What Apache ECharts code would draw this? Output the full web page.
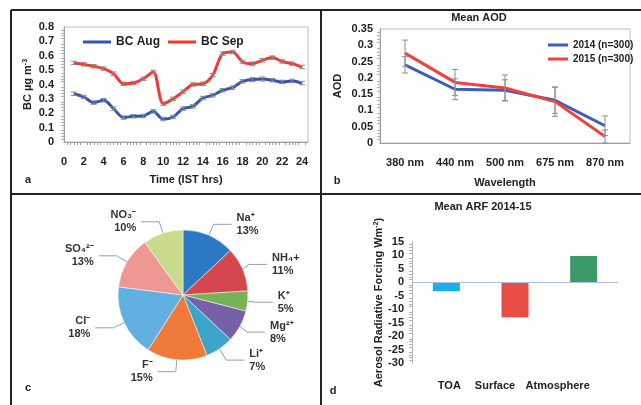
<!DOCTYPE html>
<html lang="en">
<head>
    <meta charset="UTF-8">
    <title>Aerosol panels</title>
    <script src="https://cdn.jsdelivr.net/npm/echarts@6/dist/echarts.min.js"></script>
    <style>
        html, body {
            margin: 0;
            height: 100%;
            background: #fff;
        }
    </style>
</head>
<body>
<div id="main" style="width: 641px;height: 405px"></div>
</body>
</html>
<script>
    // panel a : BC diurnal
    var hours = [1, 2, 3, 4, 5, 6, 7, 8, 9, 10, 11, 12, 13, 14, 15, 16, 17, 18, 19, 20, 21, 22, 23, 24];
    var bcAug = [0.336, 0.313, 0.274, 0.29, 0.232, 0.17, 0.179, 0.181, 0.213, 0.16, 0.174, 0.232,
        0.248, 0.306, 0.325, 0.36, 0.378, 0.422, 0.434, 0.438, 0.43, 0.418, 0.425, 0.41];
    var bcSep = [0.55, 0.54, 0.527, 0.51, 0.475, 0.405, 0.41, 0.44, 0.487, 0.267, 0.3, 0.35,
        0.4, 0.405, 0.465, 0.615, 0.626, 0.557, 0.545, 0.568, 0.587, 0.56, 0.545, 0.522];
    var errAug = [0.012, 0.012, 0.012, 0.012, 0.012, 0.012, 0.012, 0.012, 0.012, 0.012, 0.012, 0.012,
        0.012, 0.012, 0.012, 0.012, 0.012, 0.012, 0.014, 0.014, 0.012, 0.012, 0.012, 0.012];
    var errSep = [0.012, 0.012, 0.012, 0.012, 0.012, 0.012, 0.012, 0.012, 0.012, 0.012, 0.012, 0.012,
        0.012, 0.012, 0.012, 0.012, 0.012, 0.012, 0.012, 0.012, 0.012, 0.012, 0.012, 0.012];

    // panel b : mean AOD
    var waves = ['380 nm', '440 nm', '500 nm', '675 nm', '870 nm'];
    var aod2014 = [0.240, 0.165, 0.162, 0.131, 0.053];
    var aod2015 = [0.276, 0.186, 0.169, 0.127, 0.020];
    var err2014 = [0.025, 0.032, 0.032, 0.04, 0.03];
    var err2015 = [0.04, 0.04, 0.04, 0.045, 0.02];

    // panel c : ion composition
    var ions = ['Na⁺', 'NH₄+', 'K⁺', 'Mg²⁺', 'Li⁺', 'F⁻', 'Cl⁻', 'SO₄²⁻', 'NO₃⁻'];
    var ionPct = [13, 11, 5, 8, 7, 15, 18, 13, 10];
    var ionColors = ['#2e79c5', '#d4474f', '#77b254', '#7661a8', '#3aa5c9', '#f07a3a', '#62b0e2', '#ee9793', '#c8db8a'];

    // panel d : mean ARF
    var arfCats = ['TOA', 'Surface', 'Atmosphere'];
    var arfVals = [-3.3, -13, 9.8];
    var arfColors = ['#1bb0ea', '#e84c44', '#3c9a68'];

    var FONT = "'Liberation Sans', Arial, sans-serif";
    var txt = '#222';

    // vertical error bar with small caps
    function errBars() {
        return function (params, api) {
            var x = api.value(0), y = api.value(1), e = api.value(2);
            var lo = api.coord([x, y - e]);
            var hi = api.coord([x, y + e]);
            var w = 3;
            var st = {stroke: '#8a8f96', lineWidth: 1};
            return {
                type: 'group',
                children: [
                    {type: 'line', shape: {x1: lo[0], y1: lo[1], x2: hi[0], y2: hi[1]}, style: st},
                    {type: 'line', shape: {x1: lo[0] - w, y1: lo[1], x2: lo[0] + w, y2: lo[1]}, style: st},
                    {type: 'line', shape: {x1: hi[0] - w, y1: hi[1], x2: hi[0] + w, y2: hi[1]}, style: st}
                ]
            };
        };
    }

    var axLabel = {color: txt, fontWeight: 'bold', fontSize: 11, fontFamily: FONT};
    var axName = {color: txt, fontWeight: 'bold', fontSize: 11, fontFamily: FONT};
    var supStyle = {fontSize: 7, fontWeight: 'bold', color: txt, fontFamily: FONT, verticalAlign: 'top', padding: [0, 0, 5, 0]};

    var myChart = echarts.init(document.getElementById('main'));

    var option = {
        animation: false,
        textStyle: {fontFamily: FONT},
        legend: [{
            data: ['BC Aug', 'BC Sep'],
            left: 78, top: 31, icon: 'rect',
            itemWidth: 28, itemHeight: 3, itemGap: 8,
            textStyle: {color: txt, fontWeight: 'bold', fontSize: 12, fontFamily: FONT}
        }, {
            data: ['2014 (n=300)', '2015 (n=300)'],
            orient: 'vertical', icon: 'rect',
            left: 543, top: 35,
            itemWidth: 20, itemHeight: 3, itemGap: 4,
            textStyle: {color: txt, fontWeight: 'bold', fontSize: 10, fontFamily: FONT}
        }],
        grid: [
            {left: 64, right: 333, top: 27, bottom: 263, show: true, borderColor: '#b8bcc2', borderWidth: 1},
            {left: 380, right: 11, top: 29, bottom: 262, show: true, borderColor: '#b8bcc2', borderWidth: 1},
            {left: 412, right: 23, top: 242, bottom: 42}
        ],
        xAxis: [{
            gridIndex: 0, type: 'value', min: 0, max: 24.6, interval: 2,
            name: 'Time (IST hrs)', nameLocation: 'middle', nameGap: 32, nameTextStyle: axName,
            axisLine: {lineStyle: {color: '#9aa0a6'}},
            axisTick: {show: false},
            minorTick: {show: true, splitNumber: 6, length: 3, lineStyle: {color: '#9aa0a6'}},
            splitLine: {show: false},
            axisLabel: Object.assign({margin: 14, showMaxLabel: false}, axLabel)
        }, {
            gridIndex: 1, type: 'category', data: waves,
            name: 'Wavelength', nameLocation: 'middle', nameGap: 34, nameTextStyle: axName,
            axisLine: {lineStyle: {color: '#9aa0a6'}},
            axisTick: {lineStyle: {color: '#9aa0a6'}, length: 4},
            axisLabel: Object.assign({margin: 14, interval: 0}, axLabel)
        }, {
            gridIndex: 2, type: 'category',
            data: [
                {value: arfCats[0], textStyle: {padding: [0, 0, 0, 6]}},
                {value: arfCats[1], textStyle: {padding: [0, 40, 0, 0]}},
                {value: arfCats[2], textStyle: {padding: [0, 52, 0, 0]}}
            ],
            axisLine: {show: false, onZero: false},
            axisTick: {show: false},
            axisLabel: Object.assign({margin: 17, interval: 0}, axLabel)
        }],
        yAxis: [{
            gridIndex: 0, type: 'value', min: 0, max: 0.8, interval: 0.1,
            name: 'BC µg m{sup|-3}', nameLocation: 'middle', nameGap: 30, nameRotate: 90,
            nameTextStyle: Object.assign({rich: {sup: supStyle}}, axName),
            axisLine: {show: true, lineStyle: {color: '#9aa0a6'}},
            axisTick: {show: false},
            minorTick: {show: true, splitNumber: 5, length: 3, lineStyle: {color: '#b0b4b8'}},
            splitLine: {show: false},
            axisLabel: Object.assign({margin: 10}, axLabel)
        }, {
            gridIndex: 1, type: 'value', min: 0, max: 0.35, interval: 0.05,
            name: 'AOD', nameLocation: 'middle', nameGap: 37, nameRotate: 90, nameTextStyle: axName,
            axisLine: {show: true, lineStyle: {color: '#9aa0a6'}},
            axisTick: {show: false},
            minorTick: {show: true, splitNumber: 5, length: 3, lineStyle: {color: '#b0b4b8'}},
            splitLine: {show: false},
            axisLabel: Object.assign({margin: 7}, axLabel)
        }, {
            gridIndex: 2, type: 'value', min: -30, max: 15, interval: 5,
            name: 'Aerosol Radiative Forcing Wm{sup|-2})', nameLocation: 'middle', nameGap: 27, nameRotate: 90,
            nameTextStyle: Object.assign({rich: {sup: supStyle}}, axName),
            axisLine: {show: true, lineStyle: {color: '#b0b4b8'}},
            axisTick: {show: false},
            minorTick: {show: true, splitNumber: 5, length: 3, lineStyle: {color: '#b0b4b8'}},
            splitLine: {show: false},
            axisLabel: Object.assign({margin: 8}, axLabel)
        }],
        series: [{
            name: 'BC Aug', type: 'line', xAxisIndex: 0, yAxisIndex: 0,
            data: hours.map(function (h, i) { return [h, bcAug[i]]; }),
            smooth: 0.3, symbol: 'none',
            lineStyle: {color: '#3552b4', width: 3}, itemStyle: {color: '#3552b4'}
        }, {
            name: 'BC Sep', type: 'line', xAxisIndex: 0, yAxisIndex: 0,
            data: hours.map(function (h, i) { return [h, bcSep[i]]; }),
            smooth: 0.3, symbol: 'none',
            lineStyle: {color: '#f03a2c', width: 3}, itemStyle: {color: '#f03a2c'}
        }, {
            type: 'custom', xAxisIndex: 0, yAxisIndex: 0, z: 5,
            renderItem: errBars(),
            data: hours.map(function (h, i) { return [h, bcAug[i], errAug[i]]; })
        }, {
            type: 'custom', xAxisIndex: 0, yAxisIndex: 0, z: 5,
            renderItem: errBars(),
            data: hours.map(function (h, i) { return [h, bcSep[i], errSep[i]]; })
        }, {
            name: '2014 (n=300)', type: 'line', xAxisIndex: 1, yAxisIndex: 1,
            data: aod2014, symbol: 'none',
            lineStyle: {color: '#3a5fb8', width: 3}, itemStyle: {color: '#3a5fb8'}
        }, {
            name: '2015 (n=300)', type: 'line', xAxisIndex: 1, yAxisIndex: 1,
            data: aod2015, symbol: 'none',
            lineStyle: {color: '#f0413a', width: 3}, itemStyle: {color: '#f0413a'}
        }, {
            type: 'custom', xAxisIndex: 1, yAxisIndex: 1, z: 5,
            renderItem: errBars(),
            data: waves.map(function (w, i) { return [i, aod2014[i], err2014[i]]; })
        }, {
            type: 'custom', xAxisIndex: 1, yAxisIndex: 1, z: 5,
            renderItem: errBars(),
            data: waves.map(function (w, i) { return [i, aod2015[i], err2015[i]]; })
        }, {
            type: 'pie', center: [183, 295], radius: 65, startAngle: 90, clockwise: true,
            data: ions.map(function (n, i) {
                return {name: n, value: ionPct[i], itemStyle: {color: ionColors[i]}};
            }),
            label: {
                formatter: '{b}\n{c}%', color: '#333', fontWeight: 'bold', fontSize: 11,
                fontFamily: FONT, lineHeight: 13
            },
            labelLine: {length: 12, length2: 18, lineStyle: {color: '#8fa0b0', width: 1}},
            itemStyle: {borderColor: '#fff', borderWidth: 0.5}
        }, {
            type: 'bar', xAxisIndex: 2, yAxisIndex: 2, barWidth: 27,
            data: arfVals.map(function (v, i) {
                return {value: v, itemStyle: {color: arfColors[i]}};
            }),
            markLine: {
                silent: true, symbol: 'none', label: {show: false},
                lineStyle: {color: '#a9c4da', type: 'solid', width: 1},
                data: [{yAxis: 0}]
            }
        }],
        graphic: [
            {type: 'line', shape: {x1: 11, y1: 10, x2: 641, y2: 10}, style: {stroke: '#222', lineWidth: 2}},
            {type: 'line', shape: {x1: 11, y1: 10, x2: 11, y2: 405}, style: {stroke: '#222', lineWidth: 2}},
            {type: 'line', shape: {x1: 321, y1: 10, x2: 321, y2: 405}, style: {stroke: '#222', lineWidth: 2}},
            {type: 'line', shape: {x1: 11, y1: 194, x2: 641, y2: 194}, style: {stroke: '#222', lineWidth: 2}},
            {type: 'text', x: 479, y: 18, style: {text: 'Mean AOD', fill: txt, font: 'bold 11px ' + FONT, align: 'center', verticalAlign: 'middle'}},
            {type: 'text', x: 483, y: 207, style: {text: 'Mean ARF 2014-15', fill: txt, font: 'bold 11px ' + FONT, align: 'center', verticalAlign: 'middle'}},
            {type: 'text', x: 28, y: 180, style: {text: 'a', fill: txt, font: 'bold 11px ' + FONT, align: 'center', verticalAlign: 'middle'}},
            {type: 'text', x: 337, y: 181, style: {text: 'b', fill: txt, font: 'bold 11px ' + FONT, align: 'center', verticalAlign: 'middle'}},
            {type: 'text', x: 28, y: 388, style: {text: 'c', fill: txt, font: 'bold 11px ' + FONT, align: 'center', verticalAlign: 'middle'}},
            {type: 'text', x: 333, y: 391, style: {text: 'd', fill: txt, font: 'bold 11px ' + FONT, align: 'center', verticalAlign: 'middle'}}
        ]
    };

    myChart.setOption(option);
</script>
